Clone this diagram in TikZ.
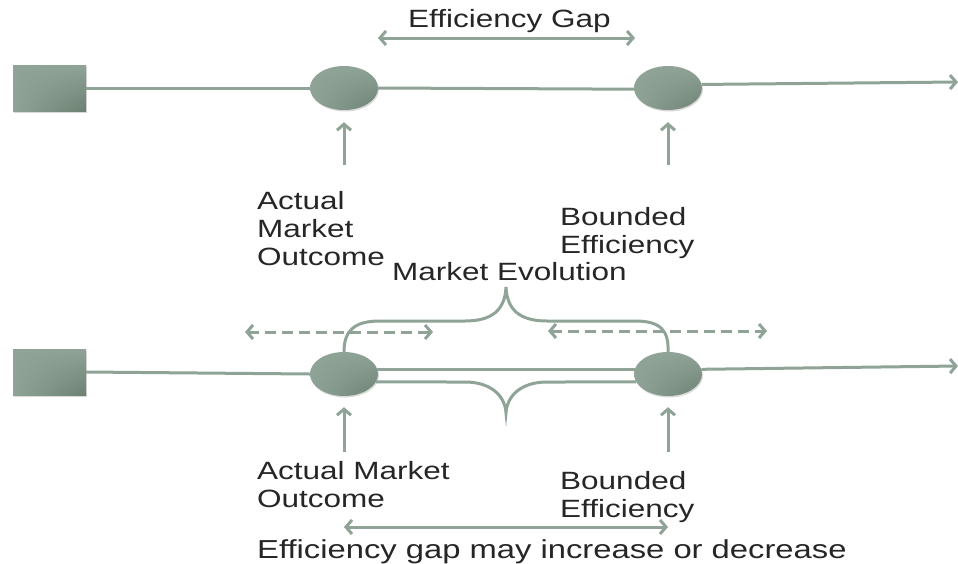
\documentclass[tikz,border=0pt]{standalone}
\usepackage{fontspec}
\newfontfamily\diagfont[FakeStretch=1.26]{Liberation Sans}
\usepackage{tikz}
\usetikzlibrary{arrows.meta,shapes.geometric,shadows,shadings}
\definecolor{sage}{HTML}{8FA397}
\definecolor{sagedark}{HTML}{6C8072}
\definecolor{inkgray}{HTML}{262626}
\tikzset{
  stage/.style={ellipse, minimum width=68pt, minimum height=44pt, inner sep=0pt,
    upper left=sage, upper right=sage, lower left=sage, lower right=sagedark,
    drop shadow={opacity=0.3, shadow xshift=1pt, shadow yshift=-1.5pt}},
  origin/.style={rectangle, minimum width=73pt, minimum height=46pt, inner sep=0pt,
    upper left=sage, upper right=sage, lower left=sage, lower right=sagedark,
    drop shadow={opacity=0.3, shadow xshift=1pt, shadow yshift=-1.5pt}},
  track/.style={draw=sage, line width=3pt},
  gap/.style={track, {Straight Barb[length=6pt,width=14pt]}-{Straight Barb[length=6pt,width=14pt]}},
  drift/.style={gap, dash pattern=on 11pt off 6pt},
  push/.style={track, -{Straight Barb[length=6pt,width=14pt]}},
  note/.style={text=inkgray, font=\diagfont\fontsize{25}{28}\selectfont, align=left, inner sep=0pt, anchor=north west}
}
\begin{document}
\begin{tikzpicture}[x=1pt,y=-1pt]
    \useasboundingbox (0,0) rectangle (958,563);
    % Upper timeline
    \node[origin] (sqA) at (49.5,88) {};
    \node[stage] (outA) at (344,88) {};
    \node[stage] (effA) at (668,88) {};
    \coordinate (endA) at (958,82);
    \draw[track] (sqA.east) -- (outA.west);
    \draw[track] (outA.east) -- (effA.182);
    \draw[push] (effA.6) -- (endA);
    \coordinate (gapAl) at (378,38);
    \coordinate (gapAr) at (635,38);
    \draw[gap] (gapAl) -- (gapAr);
    \coordinate (upA1) at (344,165);
    \coordinate (upA2) at (668,165);
    \draw[push, shorten >=12pt] (upA1) -- (outA.south);
    \draw[push, shorten >=12pt] (upA2) -- (effA.south);
    \node[note] (gapTxt) at (408,9) {Efficiency Gap};
    \node[note] (outTxtA) at (257,191) {Actual\\Market\\Outcome};
    \node[note] (effTxtA) at (560,207) {Bounded\\Efficiency};
    \node[note] (evoTxt) at (392,262) {Market Evolution};
    % Lower timeline
    \node[origin] (sqB) at (49.5,372) {};
    \node[stage] (outB) at (344,374) {};
    \node[stage] (effB) at (668,374) {};
    \coordinate (endB) at (958,366);
    \draw[track] (sqB.east) -- (outB.west);
    \draw[track] (outB.8) -- (effB.172);
    \draw[push] (effB.8) -- (endB);
    % Braces
    \draw[track] (outB.north) .. controls (344,330) and (355,321) .. (380,321) -- (465,321)
      .. controls (492,321) and (505,310) .. (506,287)
      .. controls (507,310) and (520,321) .. (547,321) -- (635,321)
      .. controls (660,321) and (669,330) .. (effB.north);
    \draw[track] (outB.-14) -- (465,382) .. controls (490,382) and (505,395) .. (506,413)
      .. controls (507,395) and (522,382) .. (547,382) -- (effB.194);
    % Dashed drift arrows
    \coordinate (dlA) at (245,332);
    \coordinate (dlB) at (433,332);
    \coordinate (drA) at (548,331);
    \coordinate (drB) at (767,331);
    \draw[drift] (dlA) -- (dlB);
    \draw[drift] (drA) -- (drB);
    \coordinate (upB1) at (344,452);
    \coordinate (upB2) at (668,452);
    \draw[push, shorten >=11pt] (upB1) -- (outB.south);
    \draw[push, shorten >=11pt] (upB2) -- (effB.south);
    \node[note] (outTxtB) at (257,461) {Actual Market\\Outcome};
    \node[note] (effTxtB) at (560,471) {Bounded\\Efficiency};
    \coordinate (gapBl) at (344,527);
    \coordinate (gapBr) at (668,527);
    \draw[gap] (gapBl) -- (gapBr);
    \node[note, font=\diagfont\fontsize{26}{28}\selectfont] (gapTxtB) at (257,539) {Efficiency gap may increase or decrease};
\end{tikzpicture}
\end{document}
